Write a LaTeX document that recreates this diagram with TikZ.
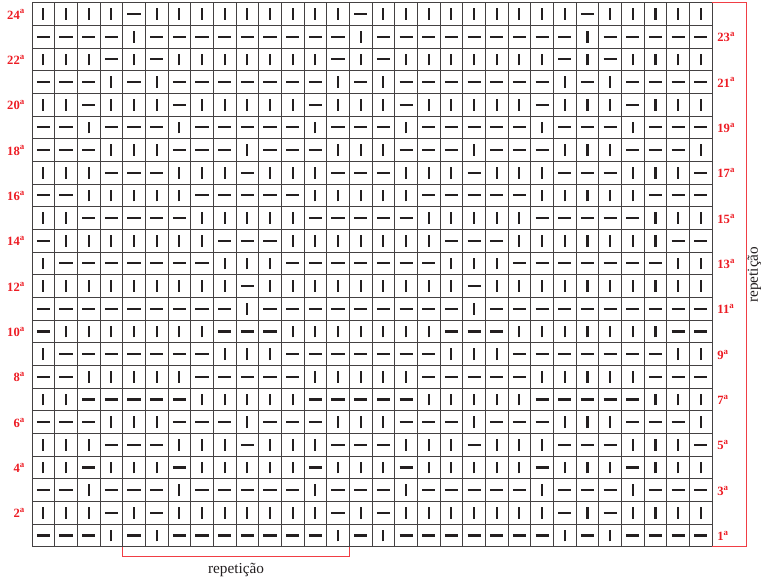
\documentclass[tikz,border=0pt]{standalone}
\usepackage{fontspec}
\setmainfont{Liberation Serif}
\definecolor{chartred}{RGB}{237,28,36}
\definecolor{stitchgray}{RGB}{35,31,32}
\tikzset{
  stitchmark/.style={line width=1.6pt, stitchgray},
  gridline/.style={line width=0.7pt, stitchgray!85},
  rowlabel/.style={text=chartred, font=\bfseries\fontsize{9.5}{10}\selectfont, inner sep=0pt},
  repbracket/.style={chartred!85, line width=0.7pt},
  reptext/.style={font=\fontsize{11.5}{13}\selectfont, text=stitchgray, inner sep=0pt}
}
% one chart row: #1 = row number, #2 = 30 cells (1 = knit, 0 = purl)
\newcommand{\stitchrow}[2]{%
  \foreach \v [count=\c] in {#2} {
    \ifnum\v=1
      \draw[stitchmark] (\c-0.5, #1-0.76) -- (\c-0.5, #1-0.24);
    \else
      \draw[stitchmark] (\c-0.79, #1-0.5) -- (\c-0.21, #1-0.5);
    \fi
  }%
}
\begin{document}
\begin{tikzpicture}[x=0.6cm, y=0.6cm]
  \useasboundingbox (-1.412,-1.557) rectangle (32.20,24.12);

  % --- grid ---
  \draw[gridline, step=1] (0,0) grid (30,24);

  % --- stitches ---
  \stitchrow{1}{0,0,0,1,0,1,0,0,0,0,0,0,0,1,0,1,0,0,0,0,0,0,0,1,0,1,0,0,0,0}
  \stitchrow{2}{1,1,1,0,1,0,1,1,1,1,1,1,1,0,1,0,1,1,1,1,1,1,1,0,1,0,1,1,1,1}
  \stitchrow{3}{0,0,1,0,0,0,1,0,0,0,0,0,1,0,0,0,1,0,0,0,0,0,1,0,0,0,1,0,0,0}
  \stitchrow{4}{1,1,0,1,1,1,0,1,1,1,1,1,0,1,1,1,0,1,1,1,1,1,0,1,1,1,0,1,1,1}
  \stitchrow{5}{1,1,1,0,0,0,1,1,1,0,1,1,1,0,0,0,1,1,1,0,1,1,1,0,0,0,1,1,1,0}
  \stitchrow{6}{0,0,0,1,1,1,0,0,0,1,0,0,0,1,1,1,0,0,0,1,0,0,0,1,1,1,0,0,0,1}
  \stitchrow{7}{1,1,0,0,0,0,0,1,1,1,1,1,0,0,0,0,0,1,1,1,1,1,0,0,0,0,0,1,1,1}
  \stitchrow{8}{0,0,1,1,1,1,1,0,0,0,0,0,1,1,1,1,1,0,0,0,0,0,1,1,1,1,1,0,0,0}
  \stitchrow{9}{1,0,0,0,0,0,0,0,1,1,1,0,0,0,0,0,0,0,1,1,1,0,0,0,0,0,0,0,1,1}
  \stitchrow{10}{0,1,1,1,1,1,1,1,0,0,0,1,1,1,1,1,1,1,0,0,0,1,1,1,1,1,1,1,0,0}
  \stitchrow{11}{0,0,0,0,0,0,0,0,0,1,0,0,0,0,0,0,0,0,0,1,0,0,0,0,0,0,0,0,0,0}
  \stitchrow{12}{1,1,1,1,1,1,1,1,1,0,1,1,1,1,1,1,1,1,1,0,1,1,1,1,1,1,1,1,1,1}
  \stitchrow{13}{1,0,0,0,0,0,0,0,1,1,1,0,0,0,0,0,0,0,1,1,1,0,0,0,0,0,0,0,1,1}
  \stitchrow{14}{0,1,1,1,1,1,1,1,0,0,0,1,1,1,1,1,1,1,0,0,0,1,1,1,1,1,1,1,0,0}
  \stitchrow{15}{1,1,0,0,0,0,0,1,1,1,1,1,0,0,0,0,0,1,1,1,1,1,0,0,0,0,0,1,1,1}
  \stitchrow{16}{0,0,1,1,1,1,1,0,0,0,0,0,1,1,1,1,1,0,0,0,0,0,1,1,1,1,1,0,0,0}
  \stitchrow{17}{1,1,1,0,0,0,1,1,1,0,1,1,1,0,0,0,1,1,1,0,1,1,1,0,0,0,1,1,1,0}
  \stitchrow{18}{0,0,0,1,1,1,0,0,0,1,0,0,0,1,1,1,0,0,0,1,0,0,0,1,1,1,0,0,0,1}
  \stitchrow{19}{0,0,1,0,0,0,1,0,0,0,0,0,1,0,0,0,1,0,0,0,0,0,1,0,0,0,1,0,0,0}
  \stitchrow{20}{1,1,0,1,1,1,0,1,1,1,1,1,0,1,1,1,0,1,1,1,1,1,0,1,1,1,0,1,1,1}
  \stitchrow{21}{0,0,0,1,0,1,0,0,0,0,0,0,0,1,0,1,0,0,0,0,0,0,0,1,0,1,0,0,0,0}
  \stitchrow{22}{1,1,1,0,1,0,1,1,1,1,1,1,1,0,1,0,1,1,1,1,1,1,1,0,1,0,1,1,1,1}
  \stitchrow{23}{0,0,0,0,1,0,0,0,0,0,0,0,0,0,1,0,0,0,0,0,0,0,0,0,1,0,0,0,0,0}
  \stitchrow{24}{1,1,1,1,0,1,1,1,1,1,1,1,1,1,0,1,1,1,1,1,1,1,1,1,0,1,1,1,1,1}

  % --- row numbers ---
  \foreach \r in {2,4,...,24}
    \node[rowlabel, anchor=base east] (row\r) at (-0.3, \r-0.72) {\r\textsuperscript{a}};
  \foreach \r in {1,3,...,23}
    \node[rowlabel, anchor=base west] (row\r) at (30.22, \r-0.72) {\r\textsuperscript{a}};

  % --- repeat brackets ---
  \coordinate (hrepA) at (4,0);
  \coordinate (hrepB) at (14,0);
  \draw[repbracket] (hrepA) -- ++(0,-0.44) -| (hrepB);
  \node[reptext] (hrep) at (9,-1.03) {repetição};

  \coordinate (vrepA) at (30,24);
  \coordinate (vrepB) at (30,0);
  \draw[repbracket] (vrepA) -- (31.53,24) |- (vrepB);
  \node[reptext, rotate=90] (vrep) at (31.86,12) {repetição};
\end{tikzpicture}
\end{document}
